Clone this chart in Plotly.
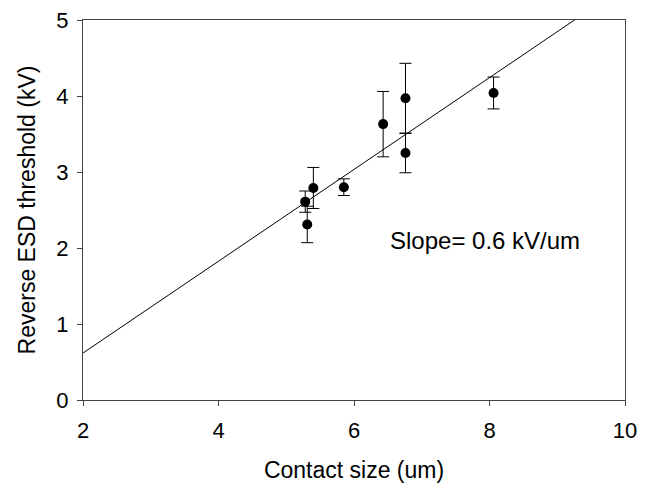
import plotly.graph_objects as go

# Data
contact_size = [5.28, 5.31, 5.40, 5.85, 6.43, 6.76, 6.76, 8.06]
esd_threshold = [2.61, 2.31, 2.79, 2.80, 3.63, 3.97, 3.25, 4.04]
esd_error = [0.14, 0.24, 0.27, 0.11, 0.43, 0.46, 0.26, 0.21]

fit_slope = 0.604
fit_intercept = -0.59
fit_x = [2, 10]
fit_y = [fit_slope * x + fit_intercept for x in fit_x]

x_ticks = [2, 4, 6, 8, 10]
y_ticks = [0, 1, 2, 3, 4, 5]

FONT = "Liberation Sans, Arial, sans-serif"
TICK_FS = 22
TITLE_FS = 23

fig = go.Figure()
fig.add_trace(go.Scatter(
    x=fit_x, y=fit_y, mode="lines",
    line=dict(color="black", width=1), showlegend=False, hoverinfo="skip"))
fig.add_trace(go.Scatter(
    x=contact_size, y=esd_threshold, mode="markers",
    marker=dict(color="black", size=10),
    error_y=dict(type="data", array=esd_error, visible=True,
                 color="black", thickness=1, width=6),
    showlegend=False))

fig.add_annotation(x=6.5, y=2.1, xref="x", yref="y", text="Slope= 0.6 kV/um",
                   showarrow=False, xanchor="left", yanchor="middle",
                   font=dict(family=FONT, size=24, color="black"))

axis_common = dict(showgrid=False, zeroline=False, showline=True, linecolor="#444",
                   linewidth=1, mirror=True, ticks="outside", ticklen=5,
                   tickcolor="#444", ticklabeloverflow="allow", automargin=False,
                   tickfont=dict(family=FONT, size=TICK_FS, color="black"))

fig.update_xaxes(range=[2, 10], tickvals=x_ticks, ticklabelstandoff=6,
                 title=dict(text="Contact size (um)", font=dict(family=FONT, size=TITLE_FS, color="black"),
                            standoff=19),
                 **axis_common)
fig.update_yaxes(range=[0, 5], tickvals=y_ticks, ticklabelstandoff=4,
                 title=dict(text="Reverse ESD threshold (kV)", font=dict(family=FONT, size=TITLE_FS, color="black"),
                            standoff=14),
                 **axis_common)

# page body has an 8px margin, so margins are offset accordingly
fig.update_layout(width=654, height=485, plot_bgcolor="white", paper_bgcolor="white",
                  margin=dict(l=75, r=37, t=12, b=93, autoexpand=False), font=dict(family=FONT))

fig.write_html("out.html")
